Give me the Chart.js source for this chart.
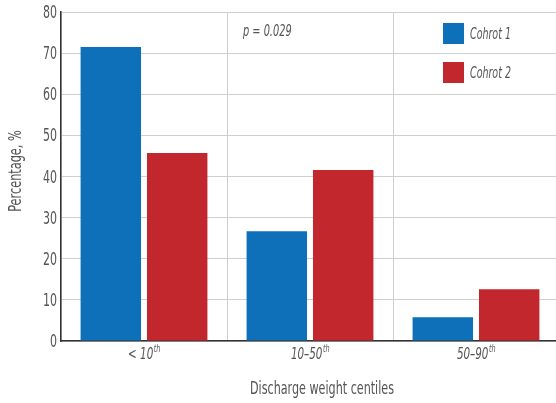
<!DOCTYPE html>
<html>
<head>
<meta charset="utf-8">
<script src="https://cdn.jsdelivr.net/npm/chart.js@4"></script>
<style>
  html, body { margin: 0; padding: 0; background: #fff; }
  #wrap { width: 556px; height: 403px; }
</style>
</head>
<body>
<div id="wrap"><canvas id="barChart" width="556" height="403"></canvas></div>
<script>
// categories and values
const categories = ["< 10", "10\u201350", "50\u201390"];
const cohort1 = [71.5, 26.7, 5.8];
const cohort2 = [45.7, 41.6, 12.6];
const yTicks = [0, 10, 20, 30, 40, 50, 60, 70, 80];

const FONT = "'Liberation Sans Narrow', 'DejaVu Sans Condensed', sans-serif";
const GREY = "#555";
const BLUE = "#0d70b9";
const RED = "#c1272d";

// condensed text: squeeze horizontally, the reference uses a narrow face
function txt(ctx, s, x, y, font, align, squeeze) {
  ctx.save();
  ctx.font = font;
  ctx.textAlign = align;
  ctx.translate(x, y);
  ctx.scale(squeeze, 1);
  ctx.fillText(s, 0, 0);
  ctx.restore();
}
function width(ctx, s, font, squeeze) {
  ctx.font = font;
  return ctx.measureText(s).width * squeeze;
}

// plot area runs a few px past the right edge of the canvas in the original
const stretch = {
  id: "stretch",
  afterLayout(chart) {
    const x = chart.scales.x;
    x.right = 559;
    x.width = x.right - x.left;
    x.configure();
    chart.chartArea.right = 559;
    chart.chartArea.width = 559 - chart.chartArea.left;
  }
};

const extras = {
  id: "extras",
  afterDraw(chart) {
    const ctx = chart.ctx;
    const x = chart.scales.x;
    const y = chart.scales.y;
    const area = chart.chartArea;
    ctx.save();
    ctx.fillStyle = GREY;
    ctx.textBaseline = "alphabetic";

    // y tick labels
    yTicks.forEach(function (v) {
      txt(ctx, String(v), 57, y.getPixelForValue(v) + 6, "17px " + FONT, "right", 0.72);
    });

    // x tick labels with superscript
    const big = "italic 16px " + FONT, small = "italic 10px " + FONT;
    categories.forEach(function (c, i) {
      const cx = x.getPixelForValue(i);
      const w1 = width(ctx, c, big, 0.72);
      const w2 = width(ctx, "th", small, 0.72);
      const left = cx - (w1 + w2) / 2;
      txt(ctx, c, left, area.bottom + 18, big, "left", 0.72);
      txt(ctx, "th", left + w1 + 0.5, area.bottom + 11, small, "left", 0.72);
    });

    txt(ctx, "Discharge weight centiles", 322, area.bottom + 53, "17px " + FONT, "center", 0.73);

    ctx.save();
    ctx.translate(21, 171);
    ctx.rotate(-Math.PI / 2);
    txt(ctx, "Percentage, %", 0, 0, "17px " + FONT, "center", 0.74);
    ctx.restore();

    txt(ctx, "p = 0.029", 243, 36, "italic 16px " + FONT, "left", 0.68);

    const series = [["Cohrot 1", BLUE, 23], ["Cohrot 2", RED, 62]];
    series.forEach(function (s) {
      ctx.fillStyle = s[1];
      ctx.fillRect(443, s[2], 21, 21);
      ctx.fillStyle = GREY;
      txt(ctx, s[0], 470, s[2] + 16, "italic 16px " + FONT, "left", 0.66);
    });
    ctx.restore();
  }
};

const ctx = document.getElementById("barChart").getContext("2d");
new Chart(ctx, {
  type: "bar",
  data: {
    labels: categories,
    datasets: [
      { label: "Cohrot 1", data: cohort1, backgroundColor: BLUE },
      { label: "Cohrot 2", data: cohort2, backgroundColor: RED }
    ]
  },
  options: {
    responsive: false,
    animation: false,
    layout: { padding: { top: 12, right: 0, left: 0, bottom: 0 } },
    datasets: { bar: { categoryPercentage: 0.8, barPercentage: 0.91 } },
    plugins: { legend: { display: false }, tooltip: { enabled: false } },
    scales: {
      x: {
        grid: { color: "#cfcfcf", lineWidth: 1, drawTicks: false, offset: true },
        border: { color: "#333", width: 1.5 },
        ticks: { display: false },
        afterFit(scale) { scale.height = 62; }
      },
      y: {
        min: 0,
        max: 80,
        afterBuildTicks(scale) { scale.ticks = yTicks.map(v => ({ value: v })); },
        grid: { color: "#cfcfcf", lineWidth: 1, drawTicks: false },
        border: { color: "#333", width: 1.5 },
        ticks: { display: false },
        afterFit(scale) { scale.width = 61; }
      }
    }
  },
  plugins: [stretch, extras]
});
</script>
</body>
</html>
